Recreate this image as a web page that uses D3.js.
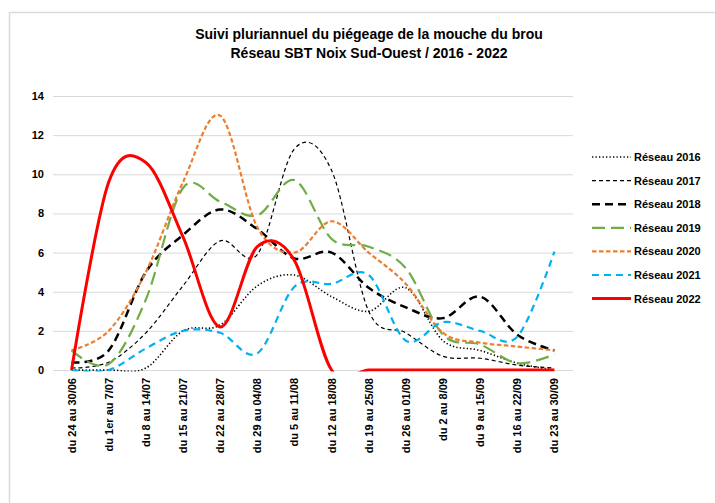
<!DOCTYPE html>
<html>
<head>
<meta charset="utf-8">
<script src="https://cdn.jsdelivr.net/npm/d3@7"></script>
<style>
  body { margin: 0; background: #fff; }
  text { font-family: "Liberation Sans", Arial, sans-serif; font-weight: bold; }
</style>
</head>
<body>
<svg id="chart" width="715" height="503"></svg>
<script>
// semaines de piégeage
var weeks = ["du 24 au 30/06", "du 1er au 7/07", "du 8 au 14/07", "du 15 au 21/07",
             "du 22 au 28/07", "du 29 au 04/08", "du 5 au 11/08", "du 12 au 18/08",
             "du 19 au 25/08", "du 26 au 01/09", "du 2 au 8/09", "du 9 au 15/09",
             "du 16 au 22/09", "du 23 au 30/09"];

var yTicks = [0, 2, 4, 6, 8, 10, 12, 14];

var v2016 = [0, 0, 0.1, 2.0, 2.3, 4.3, 4.85, 3.75, 3.0, 4.2, 1.5, 1.0, 0.35, 0];
var v2017 = [0.1, 0.4, 1.9, 4.3, 6.6, 5.9, 11.3, 10.2, 3.0, 1.9, 0.7, 0.6, 0.25, 0.1];
var v2018 = [0.4, 1.0, 5.0, 6.9, 8.2, 7.2, 5.7, 6.0, 4.2, 3.2, 2.65, 3.75, 1.8, 1.0];
var v2019 = [1.0, 0.3, 3.6, 9.3, 8.6, 7.9, 9.7, 6.7, 6.3, 5.2, 1.8, 1.3, 0.35, 0.8];
var v2020 = [1.0, 2.0, 5.0, 9.6, 13.0, 7.3, 6.0, 7.6, 6.0, 4.4, 1.9, 1.4, 1.2, 1.0];
var v2021 = [0, 0, 1.1, 2.0, 1.9, 0.85, 4.25, 4.4, 4.85, 1.5, 2.45, 2.0, 1.7, 6.05];
var v2022 = [0, 9.6, 10.6, 6.8, 2.2, 6.3, 5.6, 0, 0, 0, 0, 0, 0, 0];

var series = [
  {name: "Réseau 2016", values: v2016, color: "#000000", width: 1.6, dash: "1.3,2.2"},
  {name: "Réseau 2017", values: v2017, color: "#000000", width: 1.2, dash: "4,3"},
  {name: "Réseau 2018", values: v2018, color: "#000000", width: 2.5, dash: "8,5"},
  {name: "Réseau 2019", values: v2019, color: "#70ad47", width: 2.2, dash: "13,6"},
  {name: "Réseau 2020", values: v2020, color: "#ed7d31", width: 2.2, dash: "4.5,2.5"},
  {name: "Réseau 2021", values: v2021, color: "#00b0f0", width: 2.2, dash: "7,5"},
  {name: "Réseau 2022", values: v2022, color: "#ff0000", width: 3, dash: null}
];

var svg = d3.select("#chart");

// cadre
svg.append("rect")
  .attr("x", 9.5).attr("y", 12.5)
  .attr("width", 720).attr("height", 500)
  .attr("fill", "none")
  .attr("stroke", "#d9d9d9")
  .attr("stroke-width", 1.5);

svg.append("text")
  .attr("x", 369).attr("y", 39)
  .attr("text-anchor", "middle")
  .attr("font-size", "14px")
  .text("Suivi pluriannuel du piégeage de la mouche du brou");
svg.append("text")
  .attr("x", 369).attr("y", 58)
  .attr("text-anchor", "middle")
  .attr("font-size", "14px")
  .text("Réseau SBT Noix Sud-Ouest / 2016 - 2022");

var x = d3.scalePoint().domain(weeks).range([53, 573]).padding(0.5);
var y = d3.scaleLinear().domain([0, 14]).range([370, 96]);

// grille
svg.append("g")
  .selectAll("line")
  .data(yTicks)
  .join("line")
    .attr("x1", 53).attr("x2", 573)
    .attr("y1", d => y(d) + 0.5).attr("y2", d => y(d) + 0.5)
    .attr("stroke", "#d9d9d9")
    .attr("stroke-width", 1);

svg.append("g")
  .selectAll("text")
  .data(yTicks)
  .join("text")
    .attr("x", 44)
    .attr("y", d => y(d) + 4)
    .attr("text-anchor", "end")
    .attr("font-size", "11px")
    .text(d => d);

svg.append("g")
  .selectAll("text")
  .data(weeks)
  .join("text")
    .attr("transform", d => "translate(" + (x(d) + 4) + ",378) rotate(-90)")
    .attr("text-anchor", "end")
    .attr("font-size", "11px")
    .text(d => d);

svg.append("clipPath")
  .attr("id", "plotclip")
  .append("rect")
    .attr("x", 40).attr("y", 60)
    .attr("width", 540).attr("height", y(0) + 1.6 - 60);

var line = d3.line()
  .x((d, i) => x(weeks[i]))
  .y(d => y(d))
  .curve(d3.curveCardinal.tension(0));

var lines = svg.append("g").attr("clip-path", "url(#plotclip)");
series.forEach(function(s){
  lines.append("path")
    .datum(s.values)
    .attr("fill", "none")
    .attr("stroke", s.color)
    .attr("stroke-width", s.width)
    .attr("stroke-dasharray", s.dash)
    .attr("d", line);
});

// légende
var legend = svg.append("g");
series.forEach(function(s, i){
  var ly = 157 + i * 23.6;
  legend.append("line")
    .attr("x1", 592).attr("x2", 631)
    .attr("y1", ly).attr("y2", ly)
    .attr("stroke", s.color)
    .attr("stroke-width", s.width)
    .attr("stroke-dasharray", s.dash);
  legend.append("text")
    .attr("x", 634).attr("y", ly + 4)
    .attr("font-size", "11px")
    .text(s.name);
});
</script>
</body>
</html>
